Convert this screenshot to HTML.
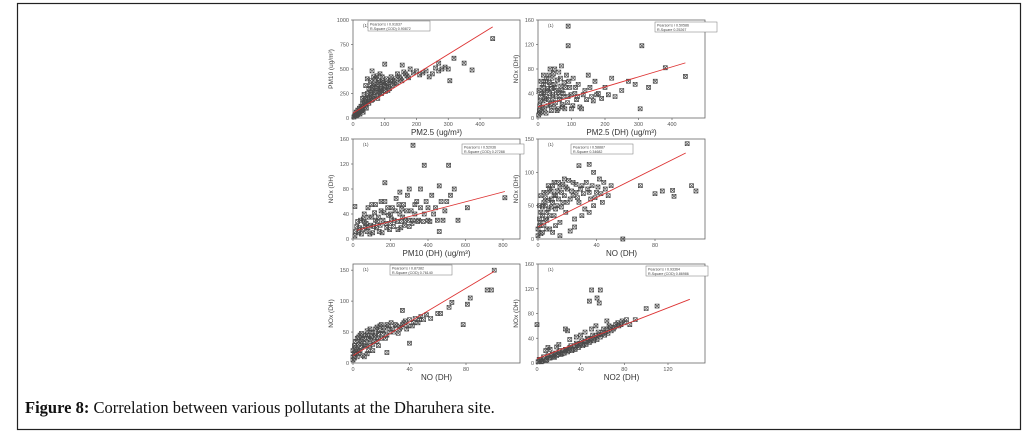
<!DOCTYPE html>
<html><head><meta charset="utf-8"><style>
html,body{margin:0;padding:0;background:#fff;}
svg{display:block;font-family:"Liberation Sans",sans-serif;}
</style></head><body>
<svg id="fig" width="1029" height="437" viewBox="0 0 1029 437">
<rect x="17.5" y="3.5" width="1003" height="426" fill="#fff" stroke="#222" stroke-width="1.2"/>
<text x="25" y="413" font-family="Liberation Serif, serif" font-size="16.5" fill="#111"><tspan font-weight="bold">Figure 8:</tspan> Correlation between various pollutants at the Dharuhera site.</text>
</svg>
<script>
// Panel 1: PM10 vs PM2.5
const p1Points=[[5,20],[8,40],[10,60],[12,30],[15,80],[18,50],[20,100],[22,70],[25,120],[28,90],[30,150],[32,60],[35,180],[38,110],[40,200],[42,140],[45,250],[48,170],[50,300],[52,210],[55,330],[58,240],[60,280],[62,190],[65,350],[68,260],[70,400],[72,300],[75,230],[78,320],[80,380],[82,270],[85,450],[88,340],[90,300],[92,420],[95,360],[98,280],[100,330],[105,400],[110,360],[115,300],[120,420],[125,380],[130,350],[140,450],[150,400],[160,470],[170,430],[180,500],[200,480],[220,460],[240,420],[260,510],[270,480],[290,520],[300,500],[45,400],[60,480],[40,330],[440,810],[350,560],[375,490],[305,380],[318,610],[100,550],[155,540],[270,560],
[3,10],[6,30],[10,20],[14,45],[18,70],[22,40],[26,100],[30,80],[34,130],[38,160],[42,100],[46,200],[50,150],[54,260],[58,180],[62,310],[66,220],[70,340],[74,280],[78,200],[82,360],[86,300],[90,250],[94,380],[98,320],[102,270],[106,350],[112,320],[118,380],[124,330],[132,400],[138,360],[146,420],[154,380],[165,450],[175,410],[190,460],[210,440],[230,480],[250,450],[280,500],[35,240],[55,380],[75,430],[30,200],[65,420],[85,250],[110,280],[20,60],[15,35]];
const p1Fit=[0,50,440,930];
const p1XTicks=[0,100,200,300,400];
const p1YTicks=[0,250,500,750,1000];
// Panel 2
const p2Points=[[2,5],[5,20],[8,35],[10,10],[12,50],[15,28],[18,42],[20,15],[22,60],[25,35],[28,48],[30,20],[32,70],[35,40],[38,55],[40,12],[42,65],[45,30],[48,50],[50,80],[52,25],[55,45],[58,62],[60,15],[62,75],[65,35],[68,52],[70,85],[72,22],[75,40],[78,58],[80,15],[85,70],[90,35],[95,50],[100,15],[105,65],[110,40],[115,30],[120,55],[130,15],[140,45],[150,70],[160,35],[170,60],[180,40],[200,50],[220,65],[250,45],[270,60],[290,55],[90,150],[90,118],[310,118],[440,68],[350,60],[380,82],[305,15],[330,50],
[4,12],[7,28],[11,40],[14,18],[17,55],[21,32],[24,8],[27,45],[31,30],[34,58],[37,22],[41,48],[44,38],[47,18],[51,55],[54,35],[57,12],[61,42],[64,30],[67,65],[71,45],[74,18],[77,35],[82,50],[88,25],[92,60],[98,38],[104,20],[112,50],[118,35],[125,18],[135,38],[145,30],[155,50],[165,28],[175,38],[190,32],[210,38],[230,35],[6,8],[3,45],[9,60],[16,70],[26,65],[36,80],[46,72]];
const p2Fit=[0,18,440,90];
const p2XTicks=[0,100,200,300,400];
const p2YTicks=[0,40,80,120,160];
// Panel 3
const p3Points=[[10,5],[20,20],[30,10],[40,30],[50,15],[60,40],[70,25],[80,50],[90,8],[100,35],[110,20],[120,55],[130,28],[140,12],[150,45],[160,30],[170,60],[180,18],[190,38],[200,25],[210,50],[220,30],[230,65],[240,15],[250,40],[260,28],[270,55],[280,30],[290,70],[300,20],[310,45],[320,30],[340,60],[350,30],[360,80],[380,40],[400,30],[420,70],[440,50],[460,85],[480,30],[500,60],[520,70],[540,80],[100,55],[150,60],[250,75],[300,80],[320,150],[380,118],[510,118],[810,66],[610,50],[460,12],[170,90],[10,52],[560,30],
[15,12],[25,28],[35,18],[45,8],[55,32],[65,20],[75,12],[85,35],[95,22],[105,10],[115,42],[125,18],[135,35],[145,22],[155,10],[165,42],[175,25],[185,50],[195,15],[205,32],[215,20],[225,45],[235,28],[245,55],[255,18],[265,35],[275,22],[285,45],[295,30],[315,25],[330,40],[345,28],[360,50],[375,28],[390,60],[410,28],[430,40],[450,30],[470,60],[490,45],[60,28],[80,18],[120,30],[200,40],[260,48],[330,55],[400,50]];
const p3Fit=[20,14,810,76];
const p3XTicks=[0,200,400,600,800];
const p3YTicks=[0,40,80,120,160];
// Panel 4
const p4Points=[[0,5],[1,20],[2,40],[3,10],[4,55],[5,30],[6,70],[7,45],[8,15],[9,60],[10,80],[11,35],[12,65],[13,50],[14,85],[15,25],[16,70],[17,55],[18,90],[19,40],[20,75],[22,60],[24,85],[25,30],[26,70],[28,55],[30,80],[32,45],[34,75],[36,60],[38,50],[40,70],[42,90],[44,55],[46,75],[48,65],[50,80],[5,50],[8,75],[3,35],[10,10],[15,5],[2,65],[102,143],[70,80],[80,68],[85,72],[92,73],[93,64],[105,80],[108,72],[58,0],[28,110],[35,112],[38,100],
[0,15],[1,30],[1,50],[2,25],[2,8],[3,48],[4,20],[4,70],[5,62],[6,40],[6,15],[7,58],[7,80],[8,35],[9,48],[9,72],[10,55],[11,65],[11,85],[12,45],[13,72],[14,60],[15,78],[16,48],[17,82],[18,65],[19,78],[20,55],[21,88],[23,72],[24,65],[26,82],[27,62],[29,75],[31,68],[33,85],[35,70],[37,80],[39,62],[41,78],[43,68],[45,85],[30,35],[35,40],[22,12],[25,18],[12,20],[6,28]];
const p4Fit=[0,18,101,129];
const p4XTicks=[0,40,80];
const p4YTicks=[0,50,100,150];
// Panel 5
const p5Points=[[0,5],[1,15],[2,25],[3,10],[4,30],[5,20],[6,35],[7,12],[8,40],[9,28],[10,45],[11,20],[12,38],[13,50],[14,30],[15,42],[16,55],[17,35],[18,48],[19,60],[20,40],[22,52],[24,45],[25,60],[26,50],[28,55],[30,62],[32,48],[34,58],[36,65],[38,55],[40,70],[42,60],[44,72],[46,65],[48,75],[50,70],[52,78],[55,72],[60,80],[3,40],[5,45],[8,10],[10,15],[100,150],[95,118],[98,118],[83,105],[81,95],[70,98],[68,90],[78,62],[62,80],[40,32],[24,17],[35,85],
[0,10],[0,20],[1,28],[1,8],[2,18],[2,35],[3,22],[4,15],[4,42],[5,32],[6,25],[6,48],[7,38],[8,28],[9,45],[10,32],[10,52],[11,40],[12,28],[12,55],[13,42],[14,50],[15,35],[16,45],[17,58],[18,40],[19,52],[20,62],[21,48],[22,58],[23,40],[24,62],[26,55],[27,65],[29,50],[31,60],[33,55],[35,62],[37,68],[39,60],[43,65],[47,70],[14,20],[18,28]];
const p5Fit=[0,12,100,148];
const p5XTicks=[0,40,80];
const p5YTicks=[0,50,100,150];
// Panel 6
const p6Points=[[1,2],[3,5],[5,3],[7,8],[9,5],[10,12],[12,8],[14,14],[15,10],[17,16],[18,12],[20,18],[22,14],[24,20],[25,16],[27,22],[28,18],[30,25],[32,20],[34,28],[35,22],[37,30],[38,25],[40,32],[42,28],[44,35],[45,30],[47,38],[48,33],[50,40],[52,36],[54,44],[55,38],[57,46],[58,42],[60,50],[62,45],[64,55],[65,48],[67,58],[70,55],[72,62],[75,60],[78,68],[80,65],[85,62],[90,70],[10,25],[20,30],[30,38],[40,45],[50,55],[50,118],[58,118],[55,105],[48,100],[57,97],[110,92],[100,88],[0,62],[26,55],[28,52],
[2,6],[4,2],[6,10],[8,4],[11,8],[13,12],[16,9],[19,14],[21,20],[23,15],[26,22],[29,20],[31,28],[33,22],[36,32],[39,28],[41,36],[43,30],[46,40],[49,36],[51,45],[53,40],[56,50],[59,46],[61,55],[63,50],[66,60],[68,52],[71,58],[74,65],[77,62],[82,70],[44,50],[54,60],[64,68],[36,42],[12,22],[18,26],[8,20]];
const p6Fit=[0,7,140,103];
const p6XTicks=[0,40,80,120];
const p6YTicks=[0,40,80,120,160];

const NS="http://www.w3.org/2000/svg";
const svg=document.getElementById('fig');
function mk(tag,attrs,parent){const e=document.createElementNS(NS,tag);for(const k in attrs)e.setAttribute(k,attrs[k]);(parent||svg).appendChild(e);return e;}

const panels=[
 {id:'pm10-vs-pm25',pts:p1Points,fit:p1Fit,xt:p1XTicks,yt:p1YTicks,box:[353,20,520,118],xd:[0,400],xr:[353,480],yd:[0,1000],xl:'PM2.5 (ug/m³)',yl:'PM10 (ug/m³)',leg:[368,21,'Pearson\'s r  0.91637','R-Square (COD)  0.90872']},
 {id:'nox-vs-pm25',pts:p2Points,fit:p2Fit,xt:p2XTicks,yt:p2YTicks,box:[538,20,705,118],xd:[0,400],xr:[538,672],yd:[0,160],xl:'PM2.5 (DH) (ug/m³)',yl:'NOx (DH)',leg:[655,22,'Pearson\'s r  0.50586','R-Square  0.25267']},
 {id:'nox-vs-pm10',pts:p3Points,fit:p3Fit,xt:p3XTicks,yt:p3YTicks,box:[353,139,520,239],xd:[0,800],xr:[353,503],yd:[0,160],xl:'PM10 (DH) (ug/m³)',yl:'NOx (DH)',leg:[462,144,'Pearson\'s r  0.52036','R-Square (COD)  0.27288']},
 {id:'nox-vs-no-a',pts:p4Points,fit:p4Fit,xt:p4XTicks,yt:p4YTicks,box:[538,139,705,239],xd:[0,80],xr:[538,655],yd:[0,150],xl:'NO (DH)',yl:'NOx (DH)',leg:[571,144,'Pearson\'s r  0.58887','R-Square  0.34682']},
 {id:'nox-vs-no-b',pts:p5Points,fit:p5Fit,xt:p5XTicks,yt:p5YTicks,box:[353,264,520,363],xd:[0,80],xr:[353,466],yd:[0,160],xl:'NO (DH)',yl:'NOx (DH)',leg:[390,265,'Pearson\'s r  0.87382','R-Square (COD)  0.76140']},
 {id:'nox-vs-no2',pts:p6Points,fit:p6Fit,xt:p6XTicks,yt:p6YTicks,box:[538,264,705,363],xd:[0,120],xr:[537,668],yd:[0,160],xl:'NO2 (DH)',yl:'NOx (DH)',leg:[646,266,'Pearson\'s r  0.93364','R-Square (COD)  0.86986']}
];

panels.forEach(p=>{
 const g=mk('g',{});
 
 
 const [L,T,R,B]=p.box;
 const xs=v=>p.xr[0]+(v-p.xd[0])/(p.xd[1]-p.xd[0])*(p.xr[1]-p.xr[0]);
 const ys=v=>B-(v-p.yd[0])/(p.yd[1]-p.yd[0])*(B-T);
 const frame=mk('rect',{x:L,y:T,width:R-L,height:B-T,fill:'none',stroke:'#666','stroke-width':0.8},g);
 
 
 p.xt.forEach(v=>{
  mk('line',{x1:xs(v),x2:xs(v),y1:B,y2:B+2,stroke:'#666','stroke-width':0.7},g);
  const t=mk('text',{x:xs(v),y:B+8,'font-size':5.5,'text-anchor':'middle',fill:'#555'},g);
  t.textContent=v;
  
  
 });
 p.yt.forEach(v=>{
  mk('line',{x1:L-2,x2:L,y1:ys(v),y2:ys(v),stroke:'#666','stroke-width':0.7},g);
  const t=mk('text',{x:L-4,y:ys(v)+2,'font-size':5.5,'text-anchor':'end',fill:'#555'},g);
  t.textContent=v;
  
  
 });
 const xl=mk('text',{x:(L+R)/2,y:B+17,'font-size':8,'text-anchor':'middle',fill:'#333'},g);
 xl.textContent=p.xl;
 
 
 const cy=(T+B)/2;
 const yl=mk('text',{x:L-20,y:cy,'font-size':6.5,'text-anchor':'middle',fill:'#444',transform:`rotate(-90 ${L-20} ${cy})`},g);
 yl.textContent=p.yl;
 
 
 const pl=mk('text',{x:L+10,y:T+7,'font-size':4.5,fill:'#444'},g);
 pl.textContent='(1)';
 
 
 p.pts.forEach(d=>{
  const x=xs(d[0]),y=ys(d[1]);
  const m=mk('path',{d:`M${x-2} ${y-2}L${x+2} ${y+2}M${x+2} ${y-2}L${x-2} ${y+2}M${x-2} ${y-2}H${x+2}V${y+2}H${x-2}Z`,fill:'none',stroke:'#4a4a4a','stroke-width':0.7},g);
  
  
 });
 const fl=mk('line',{x1:xs(p.fit[0]),y1:ys(p.fit[1]),x2:xs(p.fit[2]),y2:ys(p.fit[3]),stroke:'#d33','stroke-width':0.9},g);
 
 
 const [lx,ly,a,b]=p.leg;
 const lb=mk('rect',{x:lx,y:ly,width:62,height:10,fill:'#fff',stroke:'#777','stroke-width':0.5},g);
 
 
 [a,b].forEach((s,i)=>{
  const t=mk('text',{x:lx+2,y:ly+4.3+i*4.5,'font-size':3.6,fill:'#444'},g);
  t.textContent=s;
  
  
 });
});
</script>
</body></html>
